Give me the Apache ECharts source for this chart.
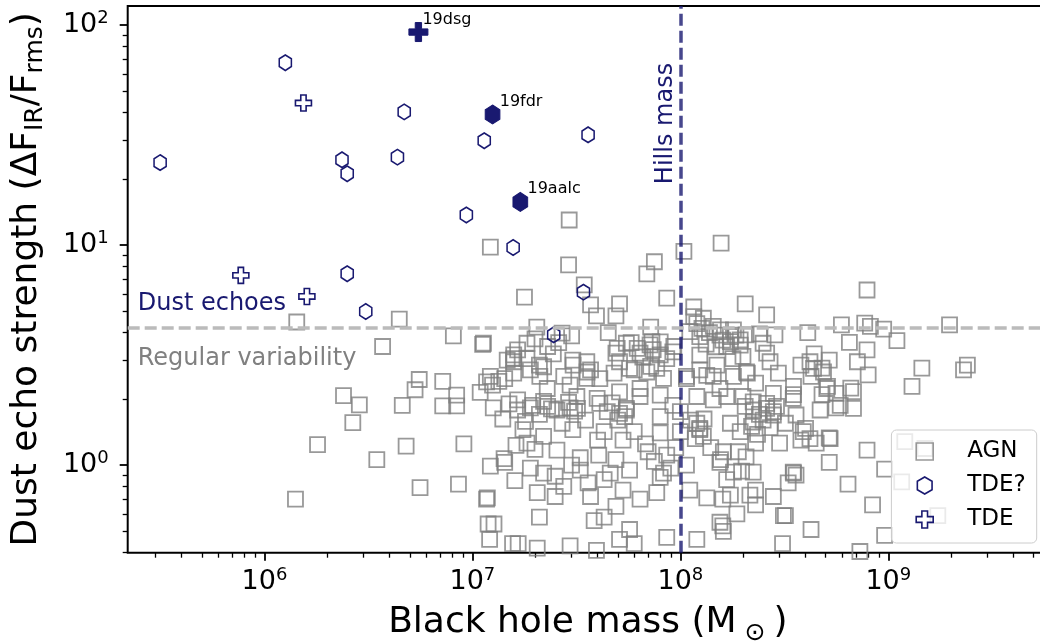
<!DOCTYPE html>
<html><head><meta charset="utf-8">
<script src="https://cdn.jsdelivr.net/npm/echarts@6/dist/echarts.min.js"></script>
<style>html,body{margin:0;padding:0;background:#fff}#c{width:1040px;height:644px}</style>
</head><body><div id="c"></div>
<script>
// ---------- data ----------
const agnData = [
[1.43e6,4.47],[4.45e6,4.61],[3.7e6,3.46],[5.55e6,2.45],[5.3e6,2.2],[7.2e6,2.4],[8.1e6,3.87],
[1.12e7,3.54],[1.58e7,3.05],[2.4e6,2.07],[2.86e6,1.88],[2.66e6,1.56],[4.6e6,1.87],[8.4e6,2.08],[8.4e6,1.86],[7.2e6,1.86],
[1.09e7,2.14],[1.17e7,2.39],[1.25e7,2.31],[1.26e7,1.82],[1.43e7,2.47],[1.58e7,2.95],[1.8e6,1.24],[3.47e6,1.06],[4.8e6,1.22],
[9.1e6,1.25],[1.22e7,0.99],[1.42e7,1.07],[1.43e7,1.03],[1.62e7,1.23],[1.6e7,0.85],[1.41e6,0.70],[5.6e6,0.79],[8.57e6,0.82],
[1.17e7,0.70],[1.18e7,0.71],[1.19e7,0.54],[1.27e7,0.54],[1.21e7,0.46],[1.56e7,0.44],[1.66e7,0.44],
[1.22e7,9.78],[2.9e7,8.13],[7.5e7,8.4],[6.9e7,7.4],[1.04e8,9.36],[1.57e8,10.2],[1.78e7,5.8],[3.45e7,6.6],[3.7e7,5.35],
[3.95e7,4.77],[5.1e7,5.4],[4.9e7,4.77],[8.6e7,5.74],[1.16e8,5.23],[2.05e8,5.4],[2.04e7,4.24],[1.13e7,3.58],[3.0e7,3.87],
[4.5e7,4.0],[7.2e7,4.24],[2.7e7,3.98],[1.16e8,4.73],[1.29e8,4.65],[1.44e8,4.27],[1.56e8,4.12],[1.74e8,3.84],[1.24e8,3.84],
[5.5e7,3.58],[7.3e7,3.64],[9.3e7,3.46],[4.9e7,3.23],[6.4e7,3.23],[8.0e7,3.17],[1.58e7,3.17],[1.65e7,3.34],[1.83e7,3.58],
[2.3e7,3.46],[3.04e7,3.0],[3.55e7,2.95],[3.7e7,2.71],[2.2e7,2.8],[1.9e7,2.71],[1.47e7,3.0],[1.22e7,2.53],[1.34e7,2.4],
[1.58e7,2.62],[2.11e7,2.53],[2.75e7,2.53],[3.55e7,2.48],[4.8e7,2.62],[6.0e7,2.71],[7.2e7,2.81],[8.3e7,2.48],[1.07e8,2.53],
[1.24e8,2.71],[1.44e8,2.53],[1.8e8,2.53],[1.94e8,3.71],[1.67e8,3.46],[1.8e8,4.12],[2.92e7,13.0],
[7.9e8,6.25],[2.6e8,4.82],[5.95e8,4.34],[7.7e8,4.42],[8.2e8,4.27],[9.5e8,4.15],[1.97e9,4.34],[1.1e9,3.68],[6.5e8,3.61],
[7.9e8,3.34],[4.1e8,4.0],[2.85e8,3.91],[2.4e8,3.95],[2.07e8,3.91],[2.5e8,3.58],[2.6e8,3.23],[2.7e8,2.95],[2.96e8,2.62],
[3.8e8,2.85],[4.2e8,2.95],[4.8e8,2.76],[4.25e8,2.53],[7.1e8,2.95],[8.0e8,2.57],[6.6e8,2.24],[3.5e8,2.28],[5.1e8,2.28],
[1.45e9,2.76],[2.3e9,2.71],[2.4e9,2.85],[1.3e9,2.28],[2.0e8,3.12],[2.1e8,2.62],[2.3e8,2.36],
[1.65e7,1.98],[1.65e7,1.78],[1.9e7,1.82],[2.3e7,1.85],[2.55e7,1.78],[2.95e7,1.82],[3.18e7,2.05],[4.1e7,1.91],[5.1e7,1.72],
[5.5e7,1.78],[6.4e7,2.05],[8e7,1.66],[1.0e8,1.75],[1.2e8,2.05],[1.44e8,1.98],[1.67e8,2.05],[1.74e8,1.55],[1.2e8,1.55],
[1.24e8,1.45],[1.29e8,1.35],[1.0e8,1.42],[8e7,1.4],[6e7,1.42],[5.3e7,1.3],[4.3e7,1.42],[3.04e7,1.45],[2.2e7,1.35],
[1.83e7,1.26],[1.9e7,0.97],[2.55e7,1.17],[3.3e7,1.08],[4.05e7,1.11],[4.9e7,1.06],[5.7e7,0.95],[7.5e7,1.04],[8.6e7,1.11],
[8.3e7,0.92],[1.07e8,1.0],[1.11e8,0.77],[1.34e8,0.71],[1.6e8,0.7],[1.56e8,1.06],[1.67e8,0.86],[1.87e8,0.6],[1.6e8,0.53],
[1.2e8,0.46],[8.6e7,0.47],[5.7e7,0.51],[6e7,0.44],[7.7e7,0.75],[6.4e7,0.7],[5.3e7,0.77],[4.9e7,0.65],[4.3e7,0.58],
[3.85e7,0.56],[3.7e7,0.72],[4.3e7,0.86],[4.6e7,0.92],[2.75e7,0.8],[2.5e7,0.72],[2.05e7,0.75],[2.5e7,0.89],[2.2e7,0.92],
[2.1e7,0.58],[2.05e7,0.42],[3.95e7,0.41],[2.95e7,0.43],[5.1e7,0.46],
[7.9e8,1.17],[5.2e8,1.03],[5.2e8,1.33],[6.4e8,0.82],[8.4e8,0.66],[9.6e8,0.96],[1.16e9,0.84],[1.5e9,1.19],[1.2e9,1.28],
[1.73e9,0.59],[9.6e8,0.48],[4.25e8,0.51],[3.1e8,0.44],[3.2e8,0.59],[2.3e8,0.66],[2.8e8,0.72],[2.3e8,0.77],[3.5e8,0.92],
[3.3e8,0.83],[1.97e8,0.94],[2.07e8,1.09],[2.3e8,1.26],[3.0e8,1.26],[3.8e8,1.3],[4.5e8,1.26],[3.9e8,1.42],[3.2e8,1.55],
[2.5e8,1.6],[2.2e8,1.5],[3.6e8,1.69],[2.9e8,1.85],[2.25e8,1.78],[2.6e8,1.91],[4.7e8,1.78],[5.6e8,1.82],[4.8e8,2.09],
[3.5e8,2.09],[5.6e8,2.12],[6.8e8,2.16],[2.8e8,2.12],[2.0e8,2.05],[7.3e8,0.405],
[4.97e7,3.39],[6.2e7,3.39],[7.15e7,3.52],[8.0e7,3.63],[8.6e7,3.05],[9.2e7,3.27],[5.1e7,2.95],[5.7e7,2.75],[6.9e7,2.65],
[7.7e7,2.75],[3.56e7,2.65],[4.1e7,2.47],[3.05e7,2.85],[2.1e7,2.85],[1.83e7,3.05],[2.29e7,2.23],[2.95e7,2.31],[3.98e7,2.01],
[5.1e7,2.15],[6.4e7,2.23],[8e7,2.08],[9.2e7,1.87],[4.45e7,1.75],[5.5e7,1.81],[3.2e7,1.81],[1.95e7,1.87],
[1.11e8,4.04],[1.27e8,4.18],[1.55e8,3.9],[1.74e8,3.64],[1.94e8,3.51],[1.24e8,3.16],[1.5e8,2.85],[1.79e8,3.05],[2.08e8,2.65],
[1.34e8,2.56],[1.07e8,2.47],[1.55e8,2.23],[2.24e8,1.94],[2.6e8,1.81],[2.8e8,1.75],[3.49e8,2.01],[4.37e8,2.75],[4.88e8,2.65],
[5.06e8,2.23],[5.87e8,1.87],[6.8e8,1.81],[1.24e8,1.47],[1.61e8,1.15],[1.55e8,1.03],[1.8e8,0.93],[2.24e8,0.93],[2.16e8,0.73],
[1.74e8,0.73],[1.55e8,0.55],[1.61e8,0.50],[3.13e8,0.59],[3.49e8,0.93],[3.6e8,0.90],[4.2e8,1.32],[5.25e8,1.32],[4.0e8,1.47],
[2.8e8,1.69],[2.24e8,1.57],[1.94e8,1.42],
[2.2e7,1.95],[2.4e7,1.80],[2.1e7,1.70],[2.9e7,1.93],[3.1e7,1.76],[4.7e7,1.92],[5.4e7,1.66],[5.0e7,1.60],
[5.8e7,3.60],[6.6e7,3.10],[7.4e7,3.35],[1.2e8,4.4],[1.38e8,4.0],[1.6e8,3.7],[1.48e8,3.45],[1.33e8,3.55],[1.85e8,3.9],
[1.12e8,1.6],[1.3e8,1.62],[1.18e8,1.32],[2.05e8,1.85],[2.4e8,1.7],[2.7e8,1.48],[2.35e8,1.38],[4.4e8,3.2],[5.2e8,3.0],
[2.0e7,3.75],[2.45e7,3.2],[2.6e7,3.6],[1.75e7,1.45],[2.0e7,1.18],[3.0e7,1.0],[3.6e7,0.83],[3.3e7,0.95],
[7.0e7,1.15],[9.0e7,0.97],[8.0e7,0.88],[1.5e7,1.9],[1.4e7,1.62],[1.8e7,1.58],[2.7e7,1.55],[3.5e7,1.6],[4.0e7,1.3],
[6.8e7,1.25],[9.5e7,1.2],[1.4e8,1.2],[1.9e8,1.15]
];
const tdeCandidateData = [
[3.15e5,23.7],[1.26e6,67.4],[4.7e6,40.3],[2.36e6,24.4],[2.5e6,21.1],[4.36e6,25.1],[1.14e7,29.8],[3.6e7,31.7],
[9.35e6,13.7],[1.57e7,9.75],[2.5e6,7.41],[3.07e6,4.99],[3.42e7,6.11],[2.46e7,3.91]
];
const tdeData = [[7.7e5,7.28],[1.6e6,5.84],[1.54e6,44.2]];
const namedCandidateNames = ['19fdr','19aalc'];
const namedCandidateData = [[1.25e7,39.2],[1.70e7,15.7]];
const namedTdeNames = ['19dsg'];
const namedTdeData = [[5.5e6,92.9]];
const hillsMass = 1e8;
const echoThreshold = 4.2;
const xRange = [2.2e5, 5.86e9];
const yRange = [0.40, 122];
const xMajorTicks = [1e6,1e7,1e8,1e9];
const xMinorTicks = [3e5,4e5,5e5,6e5,7e5,8e5,9e5,2e6,3e6,4e6,5e6,6e6,7e6,8e6,9e6,2e7,3e7,4e7,5e7,6e7,7e7,8e7,9e7,
  2e8,3e8,4e8,5e8,6e8,7e8,8e8,9e8,2e9,3e9,4e9,5e9];
const yMajorTicks = [1,10,100];
const yMinorTicks = [0.4,0.5,0.6,0.7,0.8,0.9,2,3,4,5,6,7,8,9,20,30,40,50,60,70,80,90];

// ---------- styling ----------
const FONT = 'DejaVu Sans';
const NAVY = '#191970';
const HEX = 'path://M0,-1 L0.866,-0.5 L0.866,0.5 L0,1 L-0.866,0.5 L-0.866,-0.5 Z';
const PLUS = 'path://M-1,-3 L1,-3 L1,-1 L3,-1 L3,1 L1,1 L1,3 L-1,3 L-1,1 L-3,1 L-3,-1 L-1,-1 Z';
const tickRich = {
  b: {fontFamily: FONT, fontSize: 27, color: '#000', lineHeight: 31, verticalAlign: 'middle'},
  s: {fontFamily: FONT, fontSize: 18, color: '#000', verticalAlign: 'top'}
};
const powFmt = v => '{b|10}{s|' + Math.round(Math.log10(v)) + '}';

const chart = echarts.init(document.getElementById('c'), null, {renderer: 'canvas'});
const named = (names, data) => data.map((d, i) => ({name: names[i], value: d}));

chart.setOption({
  animation: false,
  textStyle: {fontFamily: FONT},
  grid: {left: 127.7, top: 6, right: -8, bottom: 91.3, show: true, borderColor: '#000', borderWidth: 2,
         backgroundColor: 'transparent', containLabel: false, outerBoundsMode: 'none'},
  xAxis: [
    {type: 'log', logBase: 10, min: xRange[0], max: xRange[1], position: 'bottom',
     axisLine: {show: false, onZero: false}, splitLine: {show: false},
     axisTick: {show: true, customValues: xMajorTicks, length: 8, lineStyle: {color: '#000', width: 1.8}},
     axisLabel: {customValues: xMajorTicks, formatter: powFmt, margin: 14, rich: tickRich},
     name: '{m|Black hole mass (M}{s| ⊙ }{m|)}', nameLocation: 'middle', nameGap: 46.3,
     nameTextStyle: {rich: {
       m: {fontFamily: FONT, fontSize: 36, color: '#000', lineHeight: 47, verticalAlign: 'middle'},
       s: {fontFamily: FONT, fontSize: 25, color: '#000', verticalAlign: 'bottom'}}}
    },
    {type: 'log', logBase: 10, min: xRange[0], max: xRange[1], position: 'bottom',
     axisLine: {show: false, onZero: false}, splitLine: {show: false}, axisLabel: {show: false},
     axisTick: {show: true, customValues: xMinorTicks, length: 5, lineStyle: {color: '#000', width: 1.3}}}
  ],
  yAxis: [
    {type: 'log', logBase: 10, min: yRange[0], max: yRange[1], position: 'left',
     axisLine: {show: false, onZero: false}, splitLine: {show: false},
     axisTick: {show: true, customValues: yMajorTicks, length: 8, lineStyle: {color: '#000', width: 1.8}},
     axisLabel: {customValues: yMajorTicks, formatter: powFmt, margin: 19, rich: tickRich},
     name: '{m|Dust echo strength (ΔF}{s|IR}{m|/F}{s|rms}{m|)}', nameLocation: 'middle', nameGap: 80,
     nameTextStyle: {rich: {
       m: {fontFamily: FONT, fontSize: 36, color: '#000', lineHeight: 42, verticalAlign: 'middle'},
       s: {fontFamily: FONT, fontSize: 25, color: '#000', verticalAlign: 'bottom'}}}
    },
    {type: 'log', logBase: 10, min: yRange[0], max: yRange[1], position: 'left',
     axisLine: {show: false, onZero: false}, splitLine: {show: false}, axisLabel: {show: false},
     axisTick: {show: true, customValues: yMinorTicks, length: 5, lineStyle: {color: '#000', width: 1.3}}}
  ],
  legend: {
    data: ['AGN', 'TDE?', 'TDE'], orient: 'vertical', right: 3.3, top: 430,
    itemWidth: 17, itemHeight: 17, itemGap: 11, padding: [10, 11, 12, 24],
    backgroundColor: 'rgba(255,255,255,0.8)', borderColor: '#cccccc', borderWidth: 1, borderRadius: 5,
    selectedMode: false, itemStyle: {borderWidth: 1.6},
    textStyle: {fontFamily: FONT, fontSize: 23, color: '#000', padding: [0, 0, 0, 29]}
  },
  series: [
    {name: 'AGN', type: 'scatter', z: 2, clip: true, data: agnData, symbol: 'rect', symbolSize: 15,
     itemStyle: {color: 'rgba(0,0,0,0)', borderColor: '#808080', borderWidth: 1.8, opacity: 0.8},
     emphasis: {disabled: true}},
    {name: 'lines', type: 'scatter', z: 3, data: [], silent: true,
     markLine: {silent: true, symbol: 'none', label: {show: false},
       data: [
         {xAxis: hillsMass, lineStyle: {color: NAVY, opacity: 0.8, width: 3.5, type: [12, 5]}},
         {yAxis: echoThreshold, lineStyle: {color: '#bbbbbb', opacity: 1, width: 3.5, type: [12, 5]}}
       ]}},
    {name: 'TDE?', type: 'scatter', z: 4, data: tdeCandidateData, symbol: HEX, symbolSize: [14, 15.5], symbolKeepAspect: true,
     itemStyle: {color: 'rgba(0,0,0,0)', borderColor: NAVY, borderWidth: 1.6, opacity: 1}, emphasis: {disabled: true}},
    {name: 'TDE', type: 'scatter', z: 4, data: tdeData, symbol: PLUS, symbolSize: 16,
     itemStyle: {color: 'rgba(0,0,0,0)', borderColor: NAVY, borderWidth: 1.6, opacity: 1}, emphasis: {disabled: true}},
    {name: 'TDE? named', type: 'scatter', z: 5, data: named(namedCandidateNames, namedCandidateData),
     symbol: HEX, symbolSize: [17, 19], symbolKeepAspect: true,
     itemStyle: {color: NAVY, borderColor: NAVY, borderWidth: 1, opacity: 1}, emphasis: {disabled: true},
     label: {show: true, formatter: p => p.name, position: [15, 5], align: 'left', verticalAlign: 'bottom',
       fontFamily: FONT, fontSize: 16, color: '#000'}},
    {name: 'TDE named', type: 'scatter', z: 5, data: named(namedTdeNames, namedTdeData),
     symbol: PLUS, symbolSize: 19,
     itemStyle: {color: NAVY, borderColor: NAVY, borderWidth: 1, opacity: 1}, emphasis: {disabled: true},
     label: {show: true, formatter: p => p.name, position: [14, 6], align: 'left', verticalAlign: 'bottom',
       fontFamily: FONT, fontSize: 16, color: '#000'}}
  ]
});

const xHills = chart.convertToPixel({xAxisIndex: 0}, hillsMass);
const yThr = chart.convertToPixel({yAxisIndex: 0}, echoThreshold);
const xLeft = chart.convertToPixel({xAxisIndex: 0}, xRange[0]);
chart.setOption({graphic: [
  {type: 'text', x: xLeft + 10, y: yThr - 12.6, z: 10,
   style: {text: 'Dust echoes', fontFamily: FONT, fontSize: 24, fill: NAVY, align: 'left', verticalAlign: 'bottom'}},
  {type: 'text', x: xLeft + 10, y: yThr + 42.7, z: 10,
   style: {text: 'Regular variability', fontFamily: FONT, fontSize: 24, fill: '#808080', align: 'left', verticalAlign: 'bottom'}},
  {type: 'text', x: xHills - 2.5, y: 123.5, rotation: Math.PI / 2, z: 10,
   style: {text: 'Hills mass', fontFamily: FONT, fontSize: 24, fill: NAVY, align: 'center', verticalAlign: 'bottom'}}
]});
</script></body></html>
